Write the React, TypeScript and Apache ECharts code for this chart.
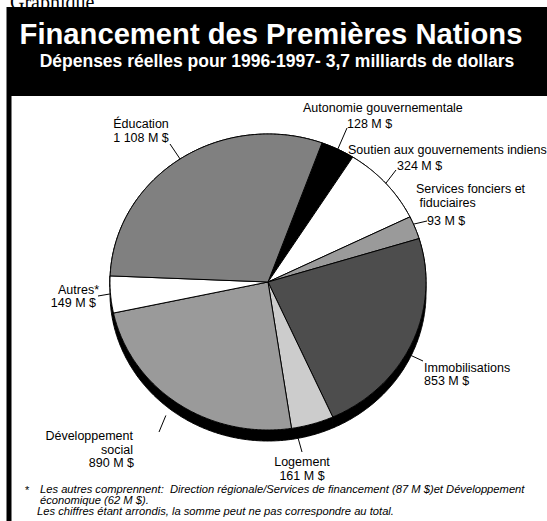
import React, { useEffect, useRef } from 'react';
import * as echarts from 'echarts';

// ---- data ----
const categories = [
  'Autonomie gouvernementale',
  'Soutien aux gouvernements indiens',
  'Services fonciers et\n fiduciaires',
  'Immobilisations',
  'Logement',
  'Développement\nsocial',
  'Autres*',
  'Éducation',
];
const values = [128, 324, 93, 853, 161, 890, 149, 1108];
const valueUnit = ' M $';
const titleText = 'Financement des Premières Nations';
const subtitleText = 'Dépenses réelles pour 1996-1997- 3,7 milliards de dollars';
const headerTag = 'Graphique';
const footnoteMark = '*';
const footnoteLines = [
  'Les autres comprennent:  Direction régionale/Services de financement (87 M $)et Développement',
  'économique (62 M $).',
  'Les chiffres étant arrondis, la somme peut ne pas correspondre au total.',
];

// ---- styles / layout ----
const sliceColors = ['#000000', '#ffffff', '#9a9a9a', '#4d4d4d', '#cccccc', '#9a9a9a', '#ffffff', '#808080'];
const START_ANGLE = 70; // degrees (math convention), slices run clockwise
const CX = 268, CY = 282, RX = 158, RY = 148, DEPTH = 11;
const FONT = '"Liberation Sans", Arial, Helvetica, sans-serif';
const LABEL_FONT = `12.5px ${FONT}`;

type Lbl = {
  nx: number; ny: number; na: string;
  vx: number; vy: number; va: string;
  ang: number; k: number; drop: boolean;
  ex: number; ey: number;
};
const labelLayout: Lbl[] = [
  { nx: 303, ny: 108, na: 'left', vx: 347, vy: 124, va: 'left', ang: 63.8, k: 1, drop: false, ex: 347, ey: 128 },
  { nx: 348, ny: 150, na: 'left', vx: 397, vy: 166, va: 'left', ang: 41.8, k: 1, drop: false, ex: 396, ey: 170 },
  { nx: 416, ny: 196, na: 'left', vx: 427, vy: 221, va: 'left', ang: 23, k: 1, drop: false, ex: 427, ey: 221 },
  { nx: 424, ny: 368, na: 'left', vx: 424, vy: 381, va: 'left', ang: -25, k: 1, drop: true, ex: 423, ey: 361 },
  { nx: 302, ny: 462, na: 'center', vx: 302, vy: 476, va: 'center', ang: -79, k: 1, drop: true, ex: 302, ey: 452 },
  { nx: 133, ny: 443, na: 'right', vx: 134, vy: 463, va: 'right', ang: -128, k: 1.05, drop: true, ex: 159, ey: 432 },
  { nx: 99, ny: 290, na: 'right', vx: 96, vy: 303, va: 'right', ang: -175.4, k: 1, drop: false, ex: 98, ey: 296 },
  { nx: 141, ny: 124, na: 'center', vx: 141, vy: 138, va: 'center', ang: 123.8, k: 1, drop: false, ex: 170, ey: 144 },
];

const total = values.reduce((a, b) => a + b, 0);
const startAngles: number[] = [];
const endAngles: number[] = [];
{
  let acc = START_ANGLE;
  values.forEach((v) => {
    startAngles.push(acc);
    acc -= (v / total) * 360;
    endAngles.push(acc);
  });
}

const fmt = (v: number) =>
  v >= 1000 ? `${Math.floor(v / 1000)} ${String(v % 1000).padStart(3, '0')}` : String(v);

function textEl(x: number, y: number, text: string, align: string, font: string, fill = '#000', vAlign = 'middle', z2 = 5) {
  return {
    type: 'text',
    x,
    y,
    z2,
    style: {
      text,
      font,
      fill,
      align,
      verticalAlign: vAlign,
      textAlign: align,
      textVerticalAlign: vAlign,
      lineHeight: 14,
    },
  };
}

export default function App() {
  const ref = useRef<HTMLDivElement>(null);
  useEffect(() => {
    if (!ref.current) return;
    const chart = echarts.init(ref.current, null, { renderer: 'svg' });
    const option: any = {
      animation: false,
      backgroundColor: '#ffffff',
      graphic: {
        elements: [
          textEl(10, 8.5, headerTag, 'left', '20px "Liberation Serif", "Times New Roman", serif', '#000', 'bottom'),
          { type: 'rect', shape: { x: 7, y: 7, width: 540, height: 89 }, style: { fill: '#000' }, z: -1 },
          { type: 'rect', shape: { x: 6.5, y: 7, width: 5, height: 514 }, style: { fill: '#000' }, z: -1 },
          textEl(271, 34, titleText, 'center', `bold 29.2px ${FONT}`, '#ffffff'),
          textEl(277, 61, subtitleText, 'center', `bold 17.5px ${FONT}`, '#ffffff'),
          textEl(25, 490, footnoteMark, 'left', `11px ${FONT}`),
          textEl(40, 489, footnoteLines[0], 'left', `italic 11.2px ${FONT}`),
          textEl(40, 500, footnoteLines[1], 'left', `italic 11.2px ${FONT}`),
          textEl(37, 511, footnoteLines[2], 'left', `italic 11.2px ${FONT}`),
        ],
      },
      series: [
        {
          type: 'custom',
          coordinateSystem: 'none',
          data: values.map((v, i) => ({ value: v, name: categories[i] })),
          renderItem: (params: any, api: any) => {
            const i = params.dataIndex;
            const v = api.value(0);
            const a0 = startAngles[i];
            const a1 = endAngles[i];
            const n = Math.max(8, Math.ceil((a0 - a1) * 2));
            const arc: number[][] = [];
            for (let s = 0; s <= n; s++) {
              const t = ((a0 + ((a1 - a0) * s) / n) * Math.PI) / 180;
              arc.push([CX + RX * Math.cos(t), CY - RY * Math.sin(t)]);
            }
            const side = {
              type: 'polygon',
              z2: 1,
              shape: { points: [...arc, ...arc.slice().reverse().map((p) => [p[0], p[1] + DEPTH])] },
              style: { fill: '#000', stroke: '#000', lineWidth: 1 },
            };
            const top = {
              type: 'polygon',
              z2: 2,
              shape: { points: [[CX, CY], ...arc] },
              style: { fill: sliceColors[i], stroke: '#000', lineWidth: 1, lineJoin: 'round' },
            };
            const L = labelLayout[i];
            const t = (L.ang * Math.PI) / 180;
            const sx = CX + RX * L.k * Math.cos(t);
            const sy = CY - RY * L.k * Math.sin(t) + (L.drop ? DEPTH : 0);
            const line = {
              type: 'line',
              z2: 4,
              shape: { x1: sx, y1: sy, x2: L.ex, y2: L.ey },
              style: { stroke: '#000', lineWidth: 1 },
            };
            const nameT = textEl(L.nx, L.ny, categories[i], L.na, LABEL_FONT);
            const valT = textEl(L.vx, L.vy, fmt(v) + valueUnit, L.va, LABEL_FONT);
            return { type: 'group', children: [side, top, line, nameT, valT] };
          },
        },
      ],
    };
    chart.setOption(option);
    return () => chart.dispose();
  }, []);
  return (
    <div
      ref={ref}
      style={{ position: 'absolute', left: 0, top: 0, width: 547, height: 521, background: '#fff' }}
    />
  );
}
